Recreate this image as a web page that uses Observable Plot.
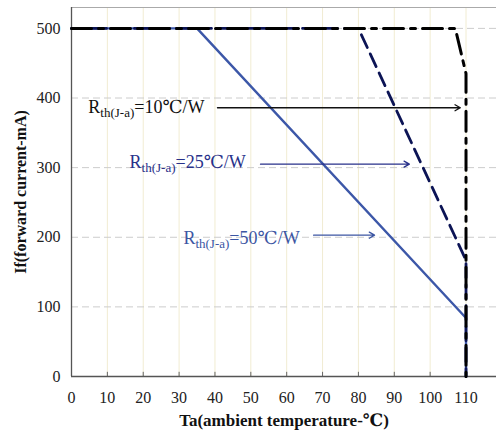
<!DOCTYPE html>
<html><head><meta charset="utf-8">
<script src="https://cdn.jsdelivr.net/npm/d3@7"></script>
<script src="https://cdn.jsdelivr.net/npm/@observablehq/plot@0.6"></script>
<style>
body{margin:0;background:#fff}
#chart svg, #chart svg text, #chart svg tspan {font-family: "Liberation Serif", "Times New Roman", "DejaVu Serif", serif !important;}
</style>
</head><body><div id="chart"></div>
<script>
// tick labels
const xTicks = [0, 10, 20, 30, 40, 50, 60, 70, 80, 90, 100, 110];
const yTicks = [0, 100, 200, 300, 400, 500];
// derating curves (Ta in °C, If in mA)
const ta10 = [0, 107, 110, 110];
const if10 = [500, 500, 435, 0];
const ta25 = [0, 80, 110, 110];
const if25 = [500, 500, 167, 0];
const ta50 = [0, 35, 110, 110];
const if50 = [500, 500, 84, 0];
// annotations
const labelText = ["Rth(J-a)=10℃/W", "Rth(J-a)=25℃/W", "Rth(J-a)=50℃/W"];
const labelTa = [4.7, 16.2, 31.2];
const labelIf = [379, 299, 190];
const arrowTa1 = [40.7, 52.7, 67.5];
const arrowTa2 = [108.4, 94.2, 84.5];
const arrowIf = [386, 305, 203];
const labelColors = ["#111111", "#28318a", "#3c56a3"];

const serif = "'Liberation Serif', 'Times New Roman', 'DejaVu Serif', serif";
const toRows = (xs, ys) => xs.map((x, i) => ({x, y: ys[i]}));
const ann = labelText.map((t, i) => ({t, x: labelTa[i], y: labelIf[i], x1: arrowTa1[i], x2: arrowTa2[i], ay: arrowIf[i], c: labelColors[i]}));

const plot = Plot.plot({
  width: 496, height: 436,
  marginLeft: 71, marginRight: 0, marginTop: 7, marginBottom: 60,
  style: {background: "#fff", fontFamily: serif},
  x: {domain: [0, 118.5]},
  y: {domain: [0, 530]},
  marks: [
    Plot.ruleX(xTicks.slice(1), {stroke: "#f1ecd2", strokeWidth: 1}),
    Plot.ruleY(yTicks.slice(1), {stroke: "#cccccc", strokeDasharray: "7,4", strokeWidth: 1}),
    Plot.ruleY([530], {stroke: "#aaaaaa", strokeWidth: 1}),
    Plot.ruleX(xTicks, {y1: 0, y2: 6, stroke: "#666", strokeWidth: 1}),
    Plot.axisX({ticks: xTicks, tickSize: 0, tickPadding: 15, fontSize: 16, fill: "#222", label: null, fontVariant: "normal"}),
    Plot.axisY({ticks: yTicks, tickSize: 0, tickPadding: 11, fontSize: 16, fill: "#222", label: null, fontVariant: "normal"}),
    Plot.ruleX([0], {stroke: "#555", strokeWidth: 1.3}),
    Plot.ruleY([0], {stroke: "#555", strokeWidth: 1.3}),
    Plot.line(toRows(ta50, if50), {x: "x", y: "y", stroke: "#3c57a8", strokeWidth: 2.4}),
    Plot.line(toRows(ta25, if25), {x: "x", y: "y", stroke: "#0c1455", strokeWidth: 2.8, strokeDasharray: "14,7"}),
    Plot.line(toRows(ta10, if10), {x: "x", y: "y", stroke: "#000", strokeWidth: 3, strokeDasharray: "20,7,5,7"}),
    Plot.arrow(ann, {x1: "x1", x2: "x2", y1: "ay", y2: "ay", stroke: "c", strokeWidth: 1.3, headLength: 7, bend: 0}),
    Plot.text(ann, {x: "x", y: "y", text: "t", fill: "c", textAnchor: "start", lineAnchor: "bottom", fontSize: 18}),
    Plot.text(["Ta(ambient temperature-℃)"], {frameAnchor: "bottom", textAnchor: "middle", dy: 49, fontSize: 17, fontWeight: "bold", fill: "#111"}),
    Plot.text(["If(forward current-mA)"], {frameAnchor: "left", textAnchor: "middle", dx: -51, dy: 0, rotate: -90, fontSize: 16, fontWeight: "bold", fill: "#111"})
  ]
});
d3.select(plot).selectAll("text").each(function () {
  this.setAttribute("font-family", serif);
  this.style.setProperty("font-family", serif, "important");
});
d3.select(plot).selectAll("text").filter(function () { return this.textContent.startsWith("Rth(J-a)"); })
  .each(function () {
    const t = this.textContent;
    const rest = t.slice("Rth(J-a)".length);
    const s = d3.select(this);
    s.text("");
    s.append("tspan").text("R");
    s.append("tspan").attr("font-size", 13).attr("dy", 4).text("th(J-a)");
    s.append("tspan").attr("dy", -4).text(rest);
  });
document.getElementById("chart").appendChild(plot);
</script>
</body></html>
